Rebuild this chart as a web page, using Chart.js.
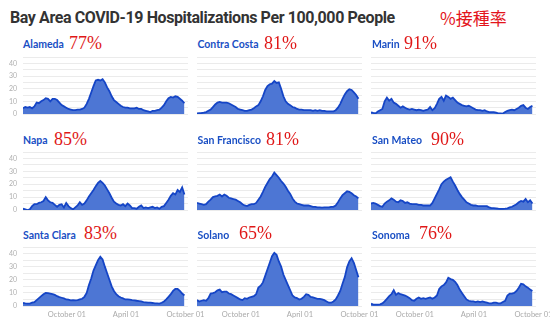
<!DOCTYPE html>
<html><head><meta charset="utf-8">
<script src="https://cdn.jsdelivr.net/npm/chart.js@4/dist/chart.umd.min.js"></script>
<style>
html,body{margin:0;padding:0;background:#fff;width:550px;height:327px;overflow:hidden;position:relative;font-family:Lato,"Noto Sans",sans-serif;}
#title{position:absolute;left:10px;top:7px;font-size:16px;letter-spacing:-0.4px;font-weight:700;color:#333;font-family:Roboto,Lato,sans-serif;white-space:nowrap;line-height:22px;}
#rate{position:absolute;left:440px;top:6px;font-size:17px;color:#e3141b;font-family:"Noto Sans CJK JP",sans-serif;line-height:24px;white-space:nowrap;}
.name{position:absolute;font-weight:700;color:#1a4fc4;font-size:10.5px;line-height:14px;white-space:nowrap;font-family:Lato,sans-serif;}
.pct{position:absolute;color:#e01818;font-size:18px;line-height:20px;white-space:nowrap;font-family:"Liberation Serif","DejaVu Serif",serif;}
canvas{position:absolute;}
</style></head><body>
<div id="title">Bay Area COVID-19 Hospitalizations Per 100,000 People</div>
<div id="rate">%接種率</div>
<script>
// County names and vaccination rates
const counties = ["Alameda","Contra Costa","Marin","Napa","San Francisco","San Mateo","Santa Clara","Solano","Sonoma"];
const vaxRates = ["77%","81%","91%","85%","81%","90%","83%","65%","76%"];
// Weekly samples starting mid-May 2020 (day offsets, 7-day spacing)
const xTickDays = [135, 317, 500];
const xTickLabels = ["October 01","April 01","October 01"];
const yTickValues = [0, 10, 20, 30, 40];

const alameda = [4.5,5.5,5,5.5,4.5,6,9,8.5,10,11,12.5,12,10,12,12,11,9,7,6,5,4,3.5,3,3,3.5,3.5,4,5,8,12,17,22,26.5,27,26.5,27.5,25,21,18,14,11,9.5,8,6.5,5.5,5,5,4.5,4.5,4.5,5,4,4,3,2.5,2,1.5,2.5,2.5,3,3.5,5,7,10,12.5,13.5,13,14,13.5,12,10.5,8.5];
const contraCosta = [0.5,0.7,0.8,1,1.5,2.5,3.5,5.5,7.5,9,9.5,9,9,9,8.5,7.5,6.5,5.5,4,3.5,3,2.5,2.5,3,3.5,4.5,6,7,10,14,19,22,23.5,24,26,24.5,25,20,14,10,8,7,5.5,5,4,3.5,3.5,3,3,3,3,2.5,3,2.5,3,2.5,2.5,2,2,2,2,3,5,8,12,15.5,18,19.5,19,17,15,12];
const marin = [1.3,0.8,0.5,2,3,4,10,13,10.5,12,9,8,6.5,5,6,5,4,3.5,4,3.5,3,3.5,3,2.5,3,3.5,5.5,3,4.5,8,12,13.5,10.5,14.5,13.5,12,13,11,9,8,7,6.5,6,6.5,5.5,4.5,3.5,3,3,2.5,3,2,1.5,1.5,1.5,1,0.5,0.5,0.3,1.5,2.5,3,3.5,3,4,5,6.5,7,5,4,5.5,6.5];
const napa = [1,0.5,0,0.5,3,4.5,4.5,5.5,6,7,10,7.5,6,5.5,4,2.5,4,4.5,2,5.5,3,1.5,0.5,2,3.5,6,4,5,7.5,10.5,13,15.5,18.5,21,22.5,21,19,16,13,9.5,6.5,5,4,3.5,4.5,3,5,3.5,1.5,1.5,1,2.5,3.5,1.5,2,1.5,2,2.5,1.5,2,1,2.5,3,5.5,8,11,13,12,15.5,14,17.5,12];
const sanFrancisco = [5.5,5,4.5,4,4.5,6.5,8,10,10.5,11,12,10.5,12,11,9.5,9,8.5,8,7,6,4.5,3.5,3,4,4.5,4.5,5.5,8,10.5,14,18,21,24,26,29,27,25,22.5,20.5,18,15,12.5,9,6.5,5,4.5,4,3.5,3.5,3.5,3,2.5,2.5,2,2,1.8,2,2,2,2.5,2.5,3.5,6,9,11.5,13,14.5,14,13,11.5,10.5,9];
const sanMateo = [5,5.5,5,4,3,2.5,5,6.5,7.5,9,8,6.5,6,7.5,7,5.5,6,5,4.5,4.5,4.5,4,4,3.5,3.5,3.5,3.5,5.5,9,12.5,16,20,22,23.5,24.5,25.5,22,19,15.5,12.5,10,8,6,5,4,3.5,3.5,3,3,3,3,3,2,1.5,1.5,1.3,1,0.8,0.8,1,1.3,2,2.5,3.5,4.5,6,7,6.5,8.5,6,7.5,5];
const santaClara = [2.3,2,1.8,1.8,2.5,3,4.5,6,7.5,9,10,9.8,9.5,9,8.5,7.5,6.8,6.3,5.8,5,4.8,4.3,4.5,4.3,4.5,5,5.5,7,10,16,21,27,31,35,37.5,35.5,30,25,20,15,11.5,9,7.5,6.5,5.8,5,5,4.8,4.5,4.3,4,3.8,3.5,3,2.8,2.5,2.5,2.3,2,2,1.8,2.5,3.5,5,7,9,11.5,13,13,11.5,9.5,8];
const solano = [4.5,3.5,4,4.5,4,6,9.5,9.8,10.5,12,12.5,10.5,11,11,9.5,9,8,7,6,5,4.5,6,5.5,6.5,7,7.5,9,14,15.5,18,23,28,33,38,40.5,39,34,30,24,20,16,12,8,6.5,6,5,5.5,7,9,8.5,7,6.5,6,5.5,5.5,5,4.5,3.5,2.5,2.5,3.5,5,8,11.5,17,22,29.5,34,36.5,33,27.5,22];
const sonoma = [1.8,1,1,1,1.3,2,3.5,5.5,7.5,9,12,8.5,9.8,9,8.5,8,7,6,4.5,4,5.5,6.5,5.5,6,5.5,6,6.5,5.5,6.5,8,13,15,16,18,21.5,20.5,20,18.5,16,12.5,10,7.5,5,4,3.5,3.5,3,3.5,3,3.5,3,2.5,2,2,2.5,2.5,2,2,3,4,8,9.5,9.5,10,11.5,14,17,16.5,15,14,12.5,11.5];

const series = [alameda, contraCosta, marin, napa, sanFrancisco, sanMateo, santaClara, solano, sonoma];

// Layout (positions only)
const colLeft = [0, 174, 348];
const rowTop = [52, 147, 242];
const rowH = [67, 68, 84];
const nameTop = [37, 133, 227.5];
const pctTop = [32.5, 128.5, 223];
const pctLeft = [69, 264, 404, 54, 266, 431, 84, 239, 419];

series.forEach((vals, idx) => {
  const col = idx % 3, row = Math.floor(idx / 3);
  const nm = document.createElement('div');
  nm.className = 'name'; nm.textContent = counties[idx];
  nm.style.left = (col === 0 ? 23 : col === 1 ? 197.5 : 372) + 'px';
  nm.style.top = nameTop[row] + 'px';
  document.body.appendChild(nm);
  const pc = document.createElement('div');
  pc.className = 'pct'; pc.textContent = vaxRates[idx];
  pc.style.left = pctLeft[idx] + 'px';
  pc.style.top = pctTop[row] + 'px';
  document.body.appendChild(pc);

  const cv = document.createElement('canvas');
  cv.width = 218; cv.height = rowH[row];
  cv.style.left = colLeft[col] + 'px';
  cv.style.top = rowTop[row] + 'px';
  cv.style.width = '218px'; cv.style.height = rowH[row] + 'px';
  document.body.appendChild(cv);

  const xScale = {
    type: 'linear', min: 0, max: 508, display: row === 2,
    grid: { display: false, drawTicks: false }, border: { display: false },
    afterBuildTicks: s => { s.ticks = xTickDays.map(v => ({ value: v })); },
    ticks: {
      autoSkip: false, maxRotation: 0, padding: 4, color: '#aaaaaa',
      font: { size: 7.5, family: 'Lato' },
      callback: v => { const k = xTickDays.indexOf(v); return k >= 0 ? xTickLabels[k] : ''; }
    }
  };
  if (row === 2) xScale.afterFit = s => { s.height = 20; };

  new Chart(cv, {
    type: 'line',
    data: { datasets: [{
      data: vals.map((v, i) => ({ x: i * 7, y: v })),
      borderColor: '#1545c6', backgroundColor: '#4d76d4',
      borderWidth: 1.8, pointRadius: 0, fill: 'origin', tension: 0
    }]},
    options: {
      responsive: false, animation: false, events: [],
      layout: { padding: { top: 5, right: 30, bottom: row < 2 ? 5 : 0, left: 0 } },
      plugins: { legend: { display: false }, tooltip: { enabled: false } },
      scales: {
        x: xScale,
        y: {
          min: 0, max: 45,
          afterFit: s => { s.width = 23; },
          grid: { color: '#ebebeb', drawTicks: true, tickLength: 6, tickColor: 'rgba(0,0,0,0)', lineWidth: 1 },
          border: { display: false },
          ticks: {
            display: col === 0, stepSize: 5, autoSkip: false, padding: 0,
            color: '#b0b0b0', font: { size: 7, family: 'Lato' },
            callback: v => yTickValues.includes(v) ? String(v) : ''
          }
        }
      }
    }
  });
});
</script>
</body></html>
